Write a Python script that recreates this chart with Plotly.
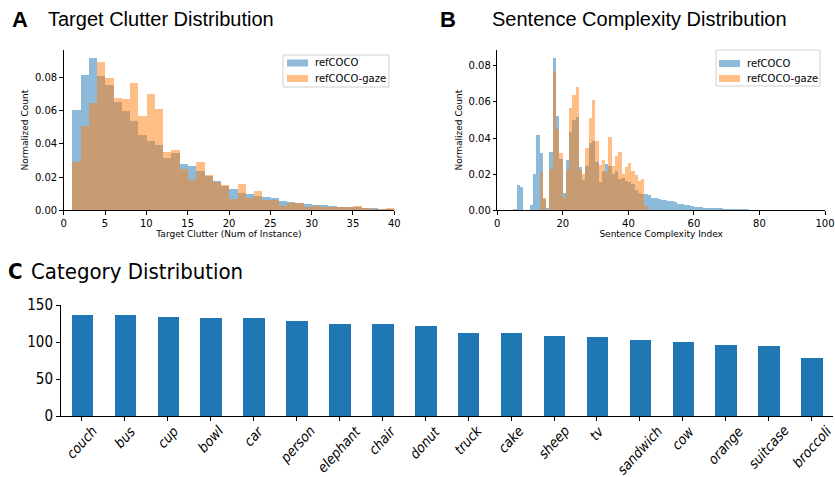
import plotly.graph_objects as go

# ---------------- data ----------------
# Panel A: Target clutter histogram (bin width 1, bins start at 1..39)
A_bin_left = list(range(1, 40))
A_refcoco = [0.0604, 0.0814, 0.0916, 0.0808, 0.0754, 0.0652, 0.0600, 0.0539, 0.0455, 0.0419,
             0.0393, 0.0317, 0.0347, 0.0279, 0.0269, 0.0237, 0.0209, 0.0176, 0.0148, 0.0128,
             0.0104, 0.0098, 0.0086, 0.0080, 0.0074, 0.0056, 0.0050, 0.0044, 0.0038, 0.0032,
             0.0032, 0.0026, 0.0020, 0.0020, 0.0018, 0.0014, 0.0014, 0.0008, 0.0006]
A_gaze = [0.0293, 0.0509, 0.0644, 0.0894, 0.0796, 0.0676, 0.0670, 0.0766, 0.0570, 0.0700,
          0.0612, 0.0351, 0.0363, 0.0249, 0.0180, 0.0290, 0.0215, 0.0172, 0.0152, 0.0066,
          0.0158, 0.0074, 0.0116, 0.0062, 0.0062, 0.0026, 0.0044, 0.0044, 0.0020, 0.0026,
          0.0020, 0.0020, 0.0020, 0.0020, 0.0026, 0.0012, 0.0008, 0.0004, 0.0014]

# Panel B: Sentence complexity histogram (bin width 1)
B_ref_left = list(range(5, 77))
B_refcoco = [0.0006, 0.0138, 0.0127, 0.0, 0.0, 0.0028, 0.0199, 0.0415, 0.0315, 0.0060,
             0.0011, 0.0320, 0.0844, 0.0520, 0.0282, 0.0094, 0.0277, 0.0433, 0.0498, 0.0514,
             0.0238, 0.0166, 0.0243, 0.0371, 0.0382, 0.0266, 0.0155, 0.0216, 0.0254, 0.0243,
             0.0200, 0.0220, 0.0175, 0.0180, 0.0160, 0.0155, 0.0144, 0.0110, 0.0094, 0.0089,
             0.0089, 0.0083, 0.0068, 0.0068, 0.0060, 0.0055, 0.0055, 0.0053, 0.0050, 0.0044,
             0.0037, 0.0035, 0.0030, 0.0028, 0.0025, 0.0020, 0.0018, 0.0018, 0.0015, 0.0013,
             0.0013, 0.0013, 0.0012, 0.0010, 0.0009, 0.0007, 0.0007, 0.0005, 0.0004, 0.0002,
             0.0007, 0.0007]
B_gaze_left = list(range(13, 46))
B_gaze = [0.0210, 0.0068, 0.0, 0.0227, 0.0770, 0.0448, 0.0315, 0.0066, 0.0221, 0.0564,
          0.0638, 0.0680, 0.0221, 0.0199, 0.0343, 0.0509, 0.0609, 0.0382, 0.0249, 0.0277,
          0.0210, 0.0404, 0.0245, 0.0300, 0.0320, 0.0200, 0.0238, 0.0260, 0.0216, 0.0194,
          0.0160, 0.0171, 0.0022]

# Panel C: category counts
categories = ["couch", "bus", "cup", "bowl", "car", "person", "elephant", "chair", "donut",
              "truck", "cake", "sheep", "tv", "sandwich", "cow", "orange", "suitcase", "broccoli"]
counts = [137, 136, 134, 133, 132, 129, 125, 125, 122, 112, 112, 108, 107, 103, 100, 96, 95, 79]

series_names = ["refCOCO", "refCOCO-gaze"]

# ---------------- styling ----------------
BLUE = "#1f77b4"
ORANGE = "#ff7f0e"
BLUE_A = "rgba(31,119,180,0.5)"
ORANGE_A = "rgba(255,127,14,0.5)"
W, H = 835, 477
tickf = dict(family="DejaVu Sans", size=10, color="black")
titlef = dict(family="DejaVu Sans", size=9, color="black")
legf = dict(family="DejaVu Sans", size=10, color="black")
cond = "DejaVu Sans Condensed, Liberation Sans Narrow, DejaVu Sans"

def px(v):
    return v / W

def py(v):
    return 1 - v / H

fig = go.Figure()

def centers(lefts):
    return [l + 0.5 for l in lefts]

fig.add_trace(go.Bar(x=centers(A_bin_left), y=A_refcoco, width=1, name=series_names[0],
                     marker=dict(color=BLUE, line=dict(width=0)), opacity=0.5,
                     xaxis="x", yaxis="y", showlegend=False))
fig.add_trace(go.Bar(x=centers(A_bin_left), y=A_gaze, width=1, name=series_names[1],
                     marker=dict(color=ORANGE, line=dict(width=0)), opacity=0.5,
                     xaxis="x", yaxis="y", showlegend=False))
fig.add_trace(go.Bar(x=centers(B_ref_left), y=B_refcoco, width=1, name=series_names[0],
                     marker=dict(color=BLUE, line=dict(width=0)), opacity=0.5,
                     xaxis="x2", yaxis="y2", showlegend=False))
fig.add_trace(go.Bar(x=centers(B_gaze_left), y=B_gaze, width=1, name=series_names[1],
                     marker=dict(color=ORANGE, line=dict(width=0)), opacity=0.5,
                     xaxis="x2", yaxis="y2", showlegend=False))
fig.add_trace(go.Bar(x=categories, y=counts, width=0.5, marker=dict(color=BLUE, line=dict(width=0)),
                     xaxis="x3", yaxis="y3", showlegend=False))

axis_common = dict(showline=True, linecolor="black", linewidth=1, ticks="outside",
                   ticklen=3.5, tickwidth=0.8, tickcolor="black", showgrid=False,
                   zeroline=False, tickfont=tickf, automargin=False)

yA = [py(210.3), py(50)]
fig.update_layout(
    width=W, height=H, margin=dict(l=0, r=0, t=0, b=0, autoexpand=False),
    paper_bgcolor="white", plot_bgcolor="white", barmode="overlay", bargap=0,
    font=dict(family="DejaVu Sans", color="black"), showlegend=False,
    xaxis=dict(domain=[px(63.7), px(394.3)], range=[0, 40], tickvals=[0, 5, 10, 15, 20, 25, 30, 35, 40],
               title=dict(text="Target Clutter (Num of Instance)", font=titlef, standoff=2),
               anchor="y", **axis_common),
    yaxis=dict(domain=yA, range=[0, 0.0964], tickvals=[0, 0.02, 0.04, 0.06, 0.08], tickformat=".2f",
               title=dict(text="Normalized Count", font=titlef, standoff=4), anchor="x", **axis_common),
    xaxis2=dict(domain=[px(497.3), px(825)], range=[0, 100], tickvals=[0, 20, 40, 60, 80, 100],
                title=dict(text="Sentence Complexity Index", font=titlef, standoff=2),
                anchor="y2", **axis_common),
    yaxis2=dict(domain=yA, range=[0, 0.0887], tickvals=[0, 0.02, 0.04, 0.06, 0.08], tickformat=".2f",
                title=dict(text="Normalized Count", font=titlef, standoff=4), anchor="x2", **axis_common),
    xaxis3=dict(domain=[px(60.5), px(833)], range=[-0.5, 17.5], anchor="y3",
                showline=True, linecolor="black", linewidth=1, ticks="outside", ticklen=3.5,
                tickwidth=0.8, tickcolor="black", showgrid=False, zeroline=False, automargin=False,
                showticklabels=False),
    yaxis3=dict(domain=[py(416), py(305)], range=[0, 150], tickvals=[0, 50, 100, 150], anchor="x3",
                showline=True, linecolor="black", linewidth=1, ticks="outside", ticklen=3.5,
                tickwidth=0.8, tickcolor="black", showgrid=False, zeroline=False, automargin=False,
                tickfont=dict(family=cond, size=15, color="black")),
)

# category tick labels: rotated, centred under each tick (matplotlib rot style)
for cat in categories:
    fig.add_annotation(text="<i>" + cat + "</i>", x=cat, xref="x3", y=py(420), yref="paper",
                       xanchor="center", yanchor="top", textangle=-48, showarrow=False,
                       font=dict(family=cond, size=14, color="black"))

# custom matplotlib-style legends (frame, swatches, labels)
def add_legend(x0, y0, x1, y1, sw_x0, sw_x1, rows, text_x):
    fig.add_shape(type="rect", xref="paper", yref="paper", x0=px(x0), x1=px(x1), y0=py(y0), y1=py(y1),
                  line=dict(color="#d0d0d0", width=1), fillcolor="rgba(255,255,255,0.8)", layer="above")
    for (yc, col, name) in rows:
        fig.add_shape(type="rect", xref="paper", yref="paper", x0=px(sw_x0), x1=px(sw_x1),
                      y0=py(yc + 3.5), y1=py(yc - 3.5), line=dict(width=0), fillcolor=col, layer="above")
        fig.add_annotation(text=name, xref="paper", yref="paper", x=px(text_x), y=py(yc),
                           xanchor="left", yanchor="middle", showarrow=False, font=legf)

add_legend(283, 55, 389, 87, 287, 308, [(63, BLUE_A, series_names[0]), (78.5, ORANGE_A, series_names[1])], 313)
add_legend(716, 50, 820, 86, 719, 740, [(63.5, BLUE_A, series_names[0]), (78.5, ORANGE_A, series_names[1])], 745)

ann = [
    dict(text="<b>A</b>", x=px(10), y=py(19), font=dict(family="Liberation Sans", size=22)),
    dict(text="Target Clutter Distribution", x=px(46), y=py(19), font=dict(family="Liberation Sans", size=20)),
    dict(text="<b>B</b>", x=px(438), y=py(19), font=dict(family="Liberation Sans", size=22)),
    dict(text="Sentence Complexity Distribution", x=px(490), y=py(19), font=dict(family="Liberation Sans", size=20)),
    dict(text="<b>C</b>", x=px(6), y=py(271), font=dict(family=cond, size=22)),
    dict(text="Category Distribution", x=px(29), y=py(271), font=dict(family=cond, size=22)),
]
for a in ann:
    fig.add_annotation(xref="paper", yref="paper", xanchor="left", yanchor="middle",
                       showarrow=False, **a)

fig.write_html("out.html", post_script="document.body.style.margin='0';",
               config={"displayModeBar": False})
